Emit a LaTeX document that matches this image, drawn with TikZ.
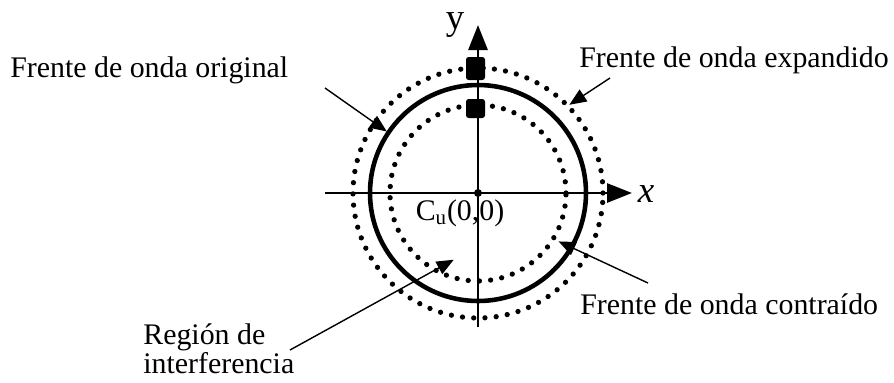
\documentclass[tikz,border=0pt]{standalone}
\usepackage{fontspec}
\setmainfont{Liberation Serif}
\usepackage{tikz}
\usetikzlibrary{arrows.meta, positioning, calc}

\begin{document}
\begin{tikzpicture}[
  font=\fontsize{17}{15.5}\selectfont,
  lbl/.style={inner sep=0pt, align=left},
  axis/.style={line width=1.6pt, -{Triangle[length=0.5cm, width=0.38cm]}},
  solidfront/.style={line width=2.6pt},
  dotfront/.style={line width=3pt, line cap=round, dash pattern=on 0pt off 6.4pt},
  arr/.style={line width=0.8pt, -{Triangle[length=0.34cm, width=0.28cm]}},
  blob/.style={fill=black, rounded corners=1.5pt}
]
%% fixed frame (reference proportions)
\useasboundingbox (-9.56,-3.78) rectangle (8.32,3.86);
%% wave fronts
\draw[solidfront] (0,0) circle[radius=2.16cm];
\draw[dotfront]   (0,0) circle[radius=2.50cm];
\draw[dotfront]   (0,0) circle[radius=1.76cm];
%% axes
\coordinate (xl) at (-3.06,0);
\coordinate (xr) at (3.08,0);
\coordinate (yb) at (0,-2.68);
\coordinate (yt) at (0,3.36);
\draw[axis] (xl) -- (xr);
\draw[axis] (yb) -- (yt);
\node[lbl] (ylab) at (-0.46,3.36) {\fontsize{21}{22}\selectfont y};
\node[lbl] (xlab) at (3.36,-0.02) {\fontsize{21}{22}\selectfont\itshape x};
%% centre
\node[circle, fill=black, inner sep=0pt, minimum size=0.16cm] (cu) at (0,0) {};
\node[lbl] (cul) at (-0.36,-0.40) {C\textsubscript{u}(0,0)};
%% marks on the y axis
\fill[blob] (-0.24,2.72) rectangle (0.14,2.26);
\fill[blob] (-0.24,1.88) rectangle (0.14,1.50);
%% labels
\node[lbl, anchor=west] (orig) at (-9.36,2.46) {Frente de onda original};
\node[lbl, anchor=west] (expd) at (2.02,2.66)  {Frente de onda expandido};
\node[lbl, anchor=west] (cont) at (2.04,-2.22) {Frente de onda contraído};
\node[lbl, anchor=west] (regn) at (-6.70,-3.12) {Región de\\interferencia};
%% pointer ends
\coordinate (orig_s) at (-3.06,2.10);
\coordinate (orig_t) at (146:2.20);
\coordinate (expd_s) at (2.64,2.30);
\coordinate (expd_t) at (44:2.54);
\coordinate (cont_s) at (3.40,-1.80);
\coordinate (cont_t) at (-31:1.88);
\coordinate (regn_s) at (-3.76,-3.14);
\coordinate (regn_t) at (250:1.42);
%% pointers
\draw[arr] (orig_s) -- (orig_t);
\draw[arr] (expd_s) -- (expd_t);
\draw[arr] (cont_s) -- (cont_t);
\draw[arr] (regn_s) -- (regn_t);
\end{tikzpicture}
\end{document}
